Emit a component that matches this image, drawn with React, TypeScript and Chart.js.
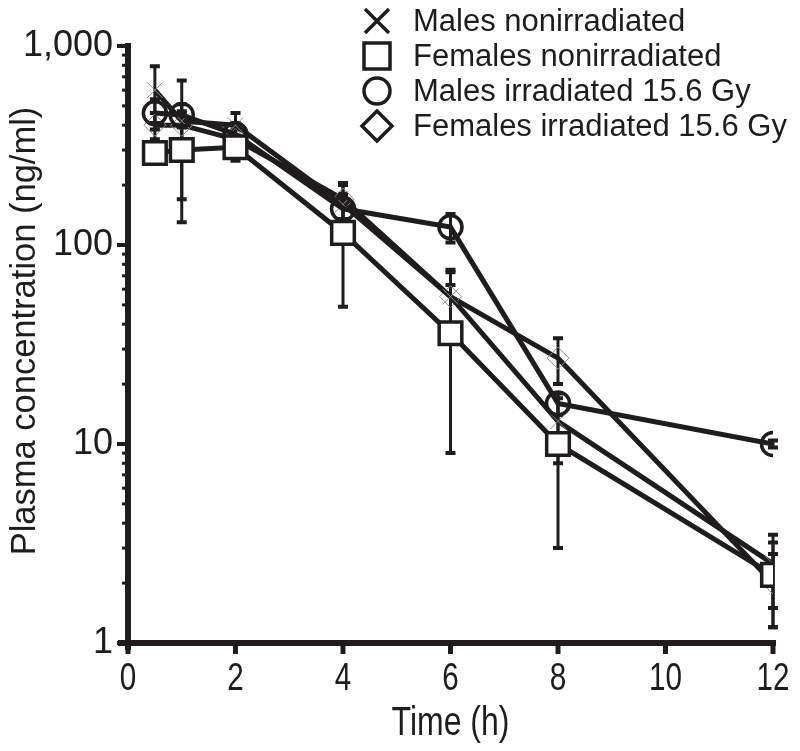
import React, { useEffect, useRef } from 'react';
import { Chart, registerables } from 'chart.js';
Chart.register(...registerables);

const times = [0.5, 1, 2, 4, 6, 8, 12];
const malesNonirradiated = [600, 420, 400, 160, 55, 13, 2.5];
const malesNonirradiatedSd = [190, 250, 60, 40, 20, 5, 1.0];
const femalesNonirradiated = [290, 300, 310, 115, 36, 10, 2.2];
const femalesNonirradiatedSd = [35, 170, 45, 66, 27, 7, 1.0];
const malesIrradiated = [460, 450, 360, 152, 123, 16, 10];
const malesIrradiatedSd = [80, 60, 50, 25, 20, 2, 0.4];
const femalesIrradiated = [400, 400, 340, 170, 55, 27, 2.0];
const femalesIrradiatedSd = [60, 60, 40, 35, 18, 7, 0.8];

const xTicks = [0, 2, 4, 6, 8, 10, 12];
const xTickLabels = ['0', '2', '4', '6', '8', '10', '12'];
const yMajorTicks = [1, 10, 100, 1000];
const yMajorLabels = ['1', '10', '100', '1,000'];
const yMinorTicks = [2, 3, 4, 5, 6, 7, 8, 9, 20, 30, 40, 50, 60, 70, 80, 90, 200, 300, 400, 500, 600, 700, 800, 900];
const xTitle = 'Time (h)';
const yTitle = 'Plasma concentration (ng/ml)';
const legendLabels = ['Males nonirradiated', 'Females nonirradiated', 'Males irradiated 15.6 Gy', 'Females irradiated 15.6 Gy'];
const legendStyles = ['cross', 'square', 'circle', 'diamond'];

const INK = '#1e1c1d';
const SANS = "'Liberation Sans', Arial, sans-serif";

const pts = (vals: number[]) => vals.map((v, i) => ({ x: times[i], y: v }));

const errorSets = [
  { values: femalesNonirradiated, sd: femalesNonirradiatedSd },
  { values: malesIrradiated, sd: malesIrradiatedSd },
  { values: malesNonirradiated, sd: malesNonirradiatedSd },
  { values: femalesIrradiated, sd: femalesIrradiatedSd },
];

const errorBarPlugin = {
  id: 'errorBars',
  beforeDatasetsDraw(chart: any) {
    const { ctx, scales } = chart;
    const xs = scales.x, ys = scales.y;
    ctx.save();
    ctx.strokeStyle = INK;
    errorSets.forEach((s) => {
      s.values.forEach((v, i) => {
        const px = xs.getPixelForValue(times[i]);
        const top = ys.getPixelForValue(v + s.sd[i]);
        const bot = ys.getPixelForValue(Math.max(v - s.sd[i], 1));
        ctx.lineWidth = 3;
        ctx.beginPath();
        ctx.moveTo(px, top);
        ctx.lineTo(px, bot);
        ctx.stroke();
        ctx.lineWidth = 4;
        ctx.beginPath();
        ctx.moveTo(px - 5, top);
        ctx.lineTo(px + 5, top);
        ctx.moveTo(px - 5, bot);
        ctx.lineTo(px + 5, bot);
        ctx.stroke();
      });
    });
    ctx.restore();
  },
};

const axesPlugin = {
  id: 'axesDraw',
  afterDraw(chart: any) {
    const { ctx, scales } = chart;
    const xs = scales.x, ys = scales.y;
    const x0 = xs.getPixelForValue(0);
    const x12 = xs.getPixelForValue(12);
    const y1 = ys.getPixelForValue(1);
    const y1000 = ys.getPixelForValue(1000);
    ctx.save();
    ctx.strokeStyle = INK;
    ctx.fillStyle = INK;
    ctx.lineCap = 'butt';
    ctx.lineWidth = 6;
    ctx.beginPath();
    ctx.moveTo(x0, y1000 - 3);
    ctx.lineTo(x0, y1 + 7);
    ctx.stroke();
    ctx.beginPath();
    ctx.moveTo(x0 - 10, y1);
    ctx.lineTo(x12 + 3, y1);
    ctx.stroke();
    ctx.lineWidth = 5;
    xTicks.forEach((t) => {
      const px = xs.getPixelForValue(t);
      ctx.beginPath();
      ctx.moveTo(px, y1);
      ctx.lineTo(px, y1 + 11);
      ctx.stroke();
    });
    ctx.lineWidth = 4;
    yMajorTicks.forEach((t) => {
      const py = ys.getPixelForValue(t);
      ctx.beginPath();
      ctx.moveTo(x0, py);
      ctx.lineTo(x0 - 11, py);
      ctx.stroke();
    });
    ctx.lineWidth = 3;
    yMinorTicks.forEach((t) => {
      const py = ys.getPixelForValue(t);
      ctx.beginPath();
      ctx.moveTo(x0, py);
      ctx.lineTo(x0 - 6, py);
      ctx.stroke();
    });
    ctx.textAlign = 'center';
    ctx.textBaseline = 'alphabetic';
    ctx.font = `38px ${SANS}`;
    xTicks.forEach((t, i) => {
      const px = xs.getPixelForValue(t);
      ctx.save();
      ctx.translate(px, y1 + 47);
      ctx.scale(0.78, 1);
      ctx.fillText(xTickLabels[i], 0, 0);
      ctx.restore();
    });
    const cx = (xs.left + xs.right) / 2;
    ctx.font = `40px ${SANS}`;
    ctx.save();
    ctx.translate(cx, 735);
    ctx.scale(0.8, 1);
    ctx.fillText(xTitle, 0, 0);
    ctx.restore();
    ctx.font = `34.5px ${SANS}`;
    ctx.save();
    ctx.translate(35, 331);
    ctx.rotate(-Math.PI / 2);
    ctx.fillText(yTitle, 0, 0);
    ctx.restore();
    ctx.restore();
  },
};

const legendPlugin = {
  id: 'customLegend',
  afterDraw(chart: any) {
    const { ctx } = chart;
    const rows = [21, 56, 91, 126];
    const mx = 377;
    const tx = 413;
    ctx.save();
    ctx.strokeStyle = INK;
    ctx.fillStyle = INK;
    ctx.lineWidth = 3.5;
    ctx.font = `31px ${SANS}`;
    ctx.textBaseline = 'middle';
    ctx.textAlign = 'left';
    legendLabels.forEach((label, i) => {
      const y = rows[i];
      const st = legendStyles[i];
      ctx.beginPath();
      if (st === 'cross') {
        ctx.moveTo(mx - 12, y - 12);
        ctx.lineTo(mx + 12, y + 12);
        ctx.moveTo(mx + 12, y - 12);
        ctx.lineTo(mx - 12, y + 12);
      } else if (st === 'square') {
        ctx.rect(mx - 13, y - 13, 26, 26);
      } else if (st === 'circle') {
        ctx.arc(mx, y, 13, 0, Math.PI * 2);
      } else {
        ctx.moveTo(mx, y - 15);
        ctx.lineTo(mx + 15, y);
        ctx.lineTo(mx, y + 15);
        ctx.lineTo(mx - 15, y);
        ctx.closePath();
      }
      ctx.stroke();
      ctx.fillText(label, tx, y + 1);
    });
    ctx.restore();
  },
};

export default function App() {
  const ref = useRef<HTMLCanvasElement | null>(null);
  useEffect(() => {
    document.body.style.margin = '0';
    const canvas = ref.current;
    if (!canvas) return;
    const chart = new Chart(canvas, {
      type: 'line',
      data: {
        datasets: [
          {
            label: legendLabels[1],
            data: pts(femalesNonirradiated),
            borderColor: INK,
            borderWidth: 5,
            pointStyle: 'rect',
            pointRadius: 16,
            pointBorderWidth: 3.5,
            pointBackgroundColor: '#ffffff',
            pointBorderColor: INK,
          },
          {
            label: legendLabels[2],
            data: pts(malesIrradiated),
            borderColor: INK,
            borderWidth: 5,
            pointStyle: 'circle',
            pointRadius: 11.5,
            pointBorderWidth: 3.5,
            pointBackgroundColor: 'rgba(0,0,0,0)',
            pointBorderColor: INK,
          },
          {
            label: legendLabels[0],
            data: pts(malesNonirradiated),
            borderColor: INK,
            borderWidth: 5,
            pointStyle: 'crossRot',
            pointRadius: 11,
            pointBorderWidth: 1,
            pointBorderColor: '#8a8a8a',
          },
          {
            label: legendLabels[3],
            data: pts(femalesIrradiated),
            borderColor: INK,
            borderWidth: 5,
            pointStyle: 'rectRot',
            pointRadius: 11,
            pointBorderWidth: 1,
            pointBackgroundColor: 'rgba(0,0,0,0)',
            pointBorderColor: '#8a8a8a',
          },
        ],
      },
      options: {
        animation: false,
        responsive: false,
        maintainAspectRatio: false,
        layout: { padding: { left: 0, right: 27, top: 46, bottom: 0 } },
        plugins: { legend: { display: false }, tooltip: { enabled: false } },
        scales: {
          x: {
            type: 'linear',
            min: 0,
            max: 12,
            afterBuildTicks: (s: any) => { s.ticks = xTicks.map((v) => ({ value: v })); },
            afterFit: (s: any) => { s.height = 108; s.paddingLeft = 0; s.paddingRight = 0; },
            ticks: { display: false },
            grid: { display: false, drawTicks: false },
            border: { display: false },
            title: { display: false },
          },
          y: {
            type: 'logarithmic',
            min: 1,
            max: 1000,
            afterBuildTicks: (s: any) => { s.ticks = yMajorTicks.map((v) => ({ value: v })); },
            afterFit: (s: any) => { s.width = 128; s.paddingTop = 0; s.paddingBottom = 0; },
            ticks: {
              font: { family: SANS, size: 36 },
              color: INK,
              padding: 15,
              autoSkip: false,
              callback: (v: any) => {
                const i = yMajorTicks.indexOf(Number(v));
                return i >= 0 ? yMajorLabels[i] : '';
              },
            },
            grid: { display: false, drawTicks: false },
            border: { display: false },
            title: { display: false },
          },
        },
      },
      plugins: [errorBarPlugin, axesPlugin, legendPlugin],
    });
    return () => chart.destroy();
  }, []);
  return <canvas ref={ref} width={800} height={751} style={{ display: 'block', width: 800, height: 751 }} />;
}
